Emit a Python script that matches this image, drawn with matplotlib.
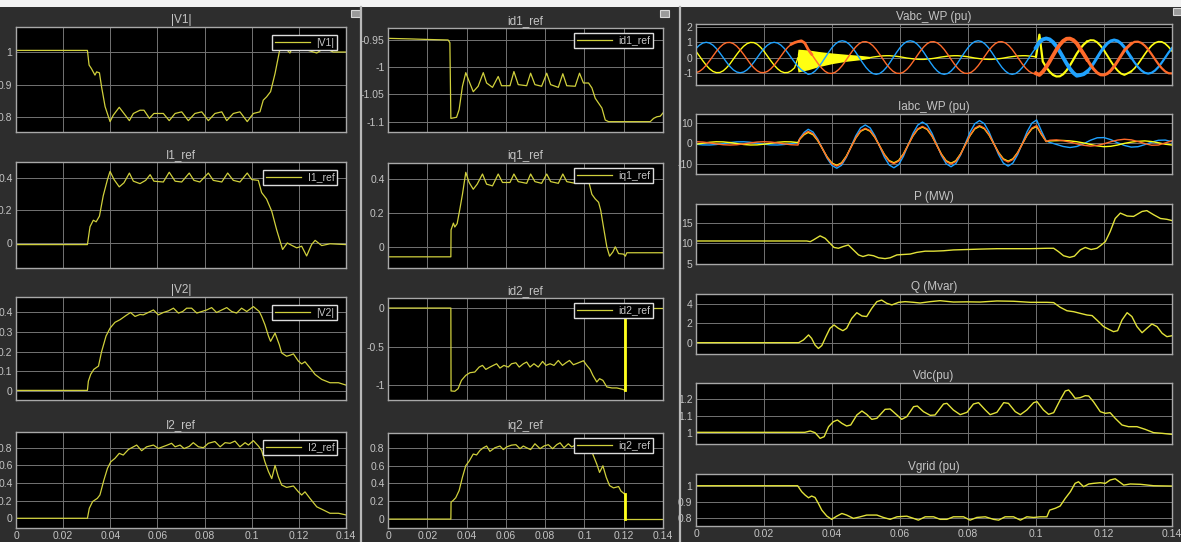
import numpy as np
import matplotlib
matplotlib.use("Agg")
import matplotlib.pyplot as plt
from matplotlib.lines import Line2D
from matplotlib.patches import Rectangle
from matplotlib.ticker import FuncFormatter

plt.rcParams['font.family'] = ['Liberation Sans', 'DejaVu Sans']

# ---------------- left column signals ----------------
v1_t = [0, 0.0303, 0.0310, 0.0320, 0.0335, 0.0342, 0.0354, 0.0363, 0.0378, 0.0399,
        0.0413, 0.0438, 0.0458, 0.0481, 0.0498, 0.0526, 0.0543, 0.0566, 0.0585, 0.0625,
        0.0650, 0.0675, 0.0703, 0.0731, 0.0759, 0.0788, 0.0816, 0.0844, 0.0873, 0.0894,
        0.0922, 0.0950, 0.0981, 0.1007, 0.1035, 0.1049, 0.1063, 0.1080, 0.1099, 0.1117,
        0.1127, 0.1145, 0.1162, 0.1177, 0.1200, 0.1240, 0.1262, 0.1276, 0.1297, 0.1325,
        0.1346, 0.1400]
v1_mag = [1.005, 1.005, 0.96, 0.949, 0.929, 0.939, 0.936, 0.893, 0.832, 0.786,
          0.806, 0.830, 0.811, 0.789, 0.811, 0.821, 0.821, 0.796, 0.811, 0.811,
          0.789, 0.811, 0.816, 0.789, 0.811, 0.816, 0.789, 0.811, 0.816, 0.789,
          0.811, 0.816, 0.786, 0.811, 0.816, 0.852, 0.862, 0.878, 0.934, 1.0,
          1.025, 1.01, 0.997, 1.02, 1.015, 1.005, 1.0, 0.997, 1.007, 1.007,
          1.0, 1.0]

i1_t = [0, 0.0303, 0.0314, 0.0328, 0.0340, 0.0354, 0.0370, 0.0388, 0.0399, 0.0416,
        0.0438, 0.0458, 0.0481, 0.0498, 0.0526, 0.0550, 0.0569, 0.0585, 0.0625, 0.0650,
        0.0675, 0.0703, 0.0735, 0.0755, 0.0780, 0.0816, 0.0837, 0.0873, 0.0898, 0.0922,
        0.0950, 0.0981, 0.1000, 0.1028, 0.1042, 0.1063, 0.1085, 0.1106, 0.1131, 0.1151,
        0.1170, 0.1191, 0.1212, 0.1233, 0.1254, 0.1269, 0.1297, 0.1332, 0.1400]
i1_ref = [-0.01, -0.01, 0.10, 0.14, 0.13, 0.165, 0.29, 0.39, 0.44, 0.39,
          0.345, 0.37, 0.43, 0.38, 0.365, 0.385, 0.42, 0.38, 0.375, 0.435,
          0.38, 0.375, 0.43, 0.385, 0.375, 0.43, 0.385, 0.375, 0.43, 0.385,
          0.375, 0.43, 0.39, 0.385, 0.31, 0.27, 0.195, 0.08, -0.04, 0.0,
          -0.015, -0.03, -0.02, -0.08, -0.01, 0.016, -0.016, -0.005, -0.01]

v2_t = [0, 0.0303, 0.0307, 0.0317, 0.0330, 0.0350, 0.0363, 0.0382, 0.0399, 0.0420,
        0.0441, 0.0467, 0.0486, 0.0505, 0.0526, 0.0540, 0.0561, 0.0583, 0.0604, 0.0625,
        0.0646, 0.0668, 0.0689, 0.0707, 0.0724, 0.0745, 0.0767, 0.0788, 0.0809, 0.0830,
        0.0851, 0.0873, 0.0894, 0.0915, 0.0936, 0.0957, 0.0979, 0.1007, 0.1032, 0.1042,
        0.1056, 0.1071, 0.1080, 0.1099, 0.1117, 0.1127, 0.1148, 0.1162, 0.1177, 0.1198,
        0.1212, 0.1226, 0.1247, 0.1269, 0.1297, 0.1332, 0.1368, 0.1400]
v2_mag = [0.003, 0.003, 0.05, 0.085, 0.11, 0.127, 0.20, 0.28, 0.32, 0.35,
          0.363, 0.385, 0.40, 0.38, 0.39, 0.388, 0.40, 0.413, 0.388, 0.400,
          0.408, 0.422, 0.397, 0.405, 0.422, 0.422, 0.397, 0.405, 0.413, 0.425,
          0.400, 0.413, 0.425, 0.405, 0.397, 0.422, 0.405, 0.43, 0.405, 0.38,
          0.338, 0.28, 0.253, 0.295, 0.236, 0.194, 0.177, 0.182, 0.189, 0.152,
          0.138, 0.149, 0.118, 0.084, 0.059, 0.042, 0.042, 0.03]

i2_t = [0, 0.0303, 0.0311, 0.0325, 0.0345, 0.0356, 0.0373, 0.0388, 0.0402, 0.0420,
        0.0438, 0.0455, 0.0477, 0.0498, 0.0512, 0.0533, 0.0554, 0.0583, 0.0604, 0.0622,
        0.0642, 0.0660, 0.0675, 0.0696, 0.0713, 0.0735, 0.0752, 0.0774, 0.0795, 0.0816,
        0.0844, 0.0866, 0.0887, 0.0908, 0.0929, 0.0950, 0.0972, 0.0986, 0.1007, 0.1028,
        0.1042, 0.1056, 0.1071, 0.1085, 0.1099, 0.1113, 0.1127, 0.1148, 0.1177, 0.1198,
        0.1212, 0.1226, 0.1247, 0.1276, 0.1304, 0.1332, 0.1368, 0.1400]
i2_ref = [0.0, 0.0, 0.113, 0.19, 0.226, 0.264, 0.434, 0.566, 0.64, 0.68,
          0.736, 0.717, 0.78, 0.81, 0.83, 0.766, 0.81, 0.83, 0.792, 0.81,
          0.83, 0.85, 0.81, 0.83, 0.79, 0.815, 0.857, 0.81, 0.80, 0.85,
          0.87, 0.81, 0.857, 0.85, 0.875, 0.81, 0.857, 0.83, 0.88, 0.82,
          0.77, 0.64, 0.53, 0.45, 0.60, 0.47, 0.377, 0.35, 0.366, 0.30,
          0.264, 0.30, 0.226, 0.13, 0.094, 0.057, 0.057, 0.038]

# ---------------- middle column signals ----------------
id1_t = [0, 0.0110, 0.0196, 0.0306, 0.0315, 0.0320, 0.0349, 0.0362, 0.0379, 0.0396,
         0.0413, 0.0434, 0.0459, 0.0485, 0.0502, 0.0532, 0.0561, 0.0578, 0.0621, 0.0641,
         0.0663, 0.0706, 0.0726, 0.0748, 0.0782, 0.0808, 0.0828, 0.0867, 0.0890, 0.0910,
         0.0953, 0.0975, 0.0995, 0.1021, 0.1038, 0.1055, 0.1072, 0.1089, 0.1106, 0.1123,
         0.1216, 0.1335, 0.1352, 0.1369, 0.1386, 0.1400]
id1_ref = [-0.947, -0.948, -0.949, -0.950, -0.955, -1.094, -1.092, -1.078, -1.035, -1.01,
           -1.026, -1.045, -1.035, -1.01, -1.029, -1.037, -1.017, -1.034, -1.034, -1.008,
           -1.032, -1.034, -1.011, -1.032, -1.035, -1.011, -1.032, -1.037, -1.012, -1.034,
           -1.035, -1.011, -1.029, -1.029, -1.038, -1.057, -1.066, -1.075, -1.097, -1.10,
           -1.10, -1.10, -1.094, -1.091, -1.09, -1.084]

iq1_t = [0, 0.0320, 0.0321, 0.0333, 0.0340, 0.0352, 0.0366, 0.0379, 0.0396, 0.0413,
         0.0434, 0.0454, 0.0481, 0.0502, 0.0532, 0.0561, 0.0583, 0.0621, 0.0641, 0.0663,
         0.0706, 0.0726, 0.0748, 0.0782, 0.0808, 0.0828, 0.0867, 0.0890, 0.0910, 0.0953,
         0.0975, 0.0995, 0.1021, 0.1038, 0.1055, 0.1072, 0.1083, 0.1097, 0.1114, 0.1128,
         0.1145, 0.1157, 0.1174, 0.1199, 0.1208, 0.1216, 0.1400]
iq1_ref = [-0.059, -0.059, 0.10, 0.14, 0.117, 0.137, 0.224, 0.31, 0.44, 0.38,
           0.34, 0.37, 0.43, 0.37, 0.36, 0.43, 0.38, 0.38, 0.43, 0.385,
           0.375, 0.43, 0.385, 0.375, 0.43, 0.385, 0.375, 0.43, 0.385, 0.375,
           0.43, 0.39, 0.39, 0.31, 0.283, 0.263, 0.215, 0.117, 0.0, -0.055,
           -0.03, 0.0, -0.04, -0.043, -0.055, -0.035, -0.035]

id2_t = [0, 0.0320, 0.0321, 0.0340, 0.0357, 0.0374, 0.0396, 0.0417, 0.0442, 0.0464,
         0.0481, 0.0498, 0.0519, 0.0536, 0.0553, 0.0570, 0.0590, 0.0612, 0.0629, 0.0651,
         0.0668, 0.0689, 0.0706, 0.0723, 0.0743, 0.0765, 0.0787, 0.0804, 0.0825, 0.0845,
         0.0867, 0.0888, 0.0906, 0.0924, 0.0944, 0.0970, 0.0995, 0.1012, 0.1029, 0.1043,
         0.1063, 0.1077, 0.1094, 0.1114, 0.1140, 0.1165, 0.1191, 0.1208]
id2_ref = [0.0, 0.0, -1.073, -1.077, -1.043, -0.936, -0.871, -0.837, -0.828, -0.764,
           -0.742, -0.794, -0.764, -0.742, -0.721, -0.777, -0.742, -0.764, -0.721, -0.708,
           -0.764, -0.721, -0.699, -0.764, -0.721, -0.764, -0.691, -0.742, -0.721, -0.742,
           -0.678, -0.742, -0.708, -0.678, -0.734, -0.708, -0.682, -0.742, -0.794, -0.871,
           -0.957, -0.914, -0.936, -1.021, -1.034, -1.034, -1.05, -1.064]
id2_reset_t = [0.1208, 0.1208]
id2_reset = [-1.064, 0.0]
id2_tail_t = [0.1212, 0.1400]
id2_tail = [0.0, 0.0]

iq2_t = [0, 0.0320, 0.0321, 0.0332, 0.0345, 0.0362, 0.0379, 0.0396, 0.0413, 0.0434,
         0.0451, 0.0468, 0.0485, 0.0502, 0.0519, 0.0544, 0.0570, 0.0587, 0.0604, 0.0629,
         0.0651, 0.0672, 0.0689, 0.0706, 0.0726, 0.0748, 0.0774, 0.0794, 0.0816, 0.0838,
         0.0859, 0.0876, 0.0896, 0.0918, 0.0935, 0.0958, 0.0985, 0.1010, 0.1030, 0.1046,
         0.1063, 0.1077, 0.1094, 0.1111, 0.1128, 0.1148, 0.1174, 0.1186, 0.1203]
iq2_ref = [0.0, 0.0, 0.19, 0.21, 0.24, 0.32, 0.47, 0.60, 0.65, 0.73,
           0.72, 0.77, 0.80, 0.82, 0.76, 0.80, 0.82, 0.78, 0.81, 0.83,
           0.835, 0.79, 0.82, 0.80, 0.78, 0.845, 0.79, 0.82, 0.835, 0.79,
           0.835, 0.856, 0.80, 0.845, 0.81, 0.835, 0.80, 0.85, 0.80, 0.71,
           0.616, 0.524, 0.598, 0.469, 0.376, 0.35, 0.365, 0.314, 0.284]
iq2_reset_t = [0.1205, 0.1205]
iq2_reset = [0.284, 0.0]
iq2_tail_t = [0.1208, 0.1400]
iq2_tail = [0.0, 0.0]

# ---------------- right column: wind-park three-phase quantities ----------------
vabc_t = np.linspace(0.0, 0.14, 141)   # 1 ms sampling
vabc_a = [0.41, 0.1, -0.21, -0.5, -0.74, -0.91, -0.99, -0.98, -0.87, -0.67,
          -0.41, -0.1, 0.21, 0.5, 0.74, 0.91, 0.99, 0.98, 0.87, 0.67,
          0.41, 0.1, -0.21, -0.5, -0.74, -0.91, -0.99, -0.98, -0.87, -0.67,
          0.0, -0.1, -0.1, 0.06, 0.09, 0.11, 0.12, 0.12, 0.1, 0.08,
          0.05, 0.01, -0.03, -0.06, -0.09, -0.11, -0.12, -0.12, -0.1, -0.08,
          -0.05, -0.01, 0.03, 0.06, 0.09, 0.11, 0.12, 0.12, 0.1, 0.08,
          0.05, 0.01, -0.03, -0.06, -0.09, -0.11, -0.12, -0.12, -0.1, -0.08,
          -0.05, -0.01, 0.03, 0.06, 0.09, 0.11, 0.12, 0.12, 0.1, 0.08,
          0.05, 0.01, -0.03, -0.06, -0.09, -0.11, -0.12, -0.12, -0.1, -0.08,
          -0.05, -0.01, 0.03, 0.06, 0.09, 0.11, 0.12, 0.12, 0.1, 0.08,
          0.05, 1.5, -0.26, -0.63, -0.93, -1.14, -1.24, -1.23, -1.09, -0.84,
          -0.51, -0.13, 0.26, 0.58, 0.85, 1.05, 1.14, 1.13, 1.0, 0.77,
          0.47, 0.12, -0.24, -0.58, -0.85, -1.05, -1.14, -1.03, -0.91, -0.7,
          -0.43, -0.11, 0.22, 0.53, 0.78, 0.96, 1.04, 1.03, 0.91, 0.7,
          0.43]
vabc_b = [0.59, 0.81, 0.95, 1.0, 0.95, 0.81, 0.59, 0.31, 0.0, -0.31,
          -0.59, -0.81, -0.95, -1.0, -0.95, -0.81, -0.59, -0.31, 0.0, 0.31,
          0.59, 0.81, 0.95, 1.0, 0.95, 0.81, 0.59, 0.31, 0.0, -0.31,
          -0.59, -0.81, -0.95, -1.1, -1.05, -0.89, -0.65, -0.34, 0.0, 0.34,
          0.65, 0.89, 1.05, 1.1, 1.05, 0.89, 0.65, 0.34, 0.0, -0.34,
          -0.65, -0.89, -1.05, -1.1, -1.05, -0.89, -0.65, -0.34, 0.0, 0.34,
          0.65, 0.89, 1.05, 1.1, 1.05, 0.89, 0.65, 0.34, 0.0, -0.34,
          -0.65, -0.89, -1.05, -1.1, -1.05, -0.89, -0.65, -0.34, 0.0, 0.34,
          0.65, 0.89, 1.05, 1.1, 1.05, 0.89, 0.65, 0.34, 0.0, -0.34,
          -0.65, -0.89, -1.05, -1.1, -1.05, -0.89, -0.65, -0.34, 0.0, 0.34,
          0.65, 1.01, 1.19, 1.25, 1.19, 1.01, 0.74, 0.39, 0.0, -0.39,
          -0.74, -1.01, -1.19, -1.15, -1.09, -0.93, -0.68, -0.36, 0.0, 0.36,
          0.68, 0.93, 1.09, 1.15, 1.09, 0.93, 0.68, 0.33, 0.0, -0.33,
          -0.62, -0.85, -1.0, -1.05, -1.0, -0.85, -0.62, -0.33, 0.0, 0.33,
          0.62]
vabc_c = [-0.99, -0.91, -0.74, -0.5, -0.21, 0.1, 0.41, 0.67, 0.87, 0.98,
          0.99, 0.91, 0.74, 0.5, 0.21, -0.1, -0.41, -0.67, -0.87, -0.98,
          -0.99, -0.91, -0.74, -0.5, -0.21, 0.1, 0.41, 0.67, 0.87, 0.98,
          1.05, 1.1, 0.95, 0.53, 0.22, -0.11, -0.43, -0.7, -0.91, -1.03,
          -1.04, -0.96, -0.78, -0.53, -0.22, 0.11, 0.43, 0.7, 0.91, 1.03,
          1.04, 0.96, 0.78, 0.53, 0.22, -0.11, -0.43, -0.7, -0.91, -1.03,
          -1.04, -0.96, -0.78, -0.53, -0.22, 0.11, 0.43, 0.7, 0.91, 1.03,
          1.04, 0.96, 0.78, 0.53, 0.22, -0.11, -0.43, -0.7, -0.91, -1.03,
          -1.04, -0.96, -0.78, -0.53, -0.22, 0.11, 0.43, 0.7, 0.91, 1.03,
          1.04, 0.96, 0.78, 0.53, 0.22, -0.11, -0.43, -0.7, -0.91, -1.03,
          -1.04, -1.14, -0.93, -0.63, -0.26, 0.13, 0.51, 0.84, 1.09, 1.23,
          1.24, 1.14, 0.93, 0.58, 0.24, -0.12, -0.47, -0.77, -1.0, -1.13,
          -1.14, -1.05, -0.85, -0.58, -0.24, 0.12, 0.47, 0.7, 0.91, 1.03,
          1.04, 0.96, 0.78, 0.53, 0.22, -0.11, -0.43, -0.7, -0.91, -1.03,
          -1.04]
# envelope of the switching burst on the faulted phase
burst_t = [0.0298, 0.0300, 0.033, 0.036, 0.040, 0.044, 0.048, 0.051]
burst_hi = [0.2, 0.55, 0.5, 0.4, 0.3, 0.22, 0.15, 0.08]
burst_lo = [-0.7, -0.95, -0.8, -0.6, -0.4, -0.25, -0.15, -0.05]

iabc_t = [0.000, 0.002, 0.004, 0.006, 0.008, 0.010, 0.012, 0.014, 0.016, 0.018,
          0.020, 0.022, 0.024, 0.026, 0.028, 0.030, 0.0305, 0.0318,
          0.0330, 0.0344, 0.0358, 0.0372, 0.0386, 0.0400, 0.0414, 0.0428, 0.0442, 0.0456,
          0.0470, 0.0484, 0.0498, 0.0512, 0.0526, 0.0540, 0.0554, 0.0568, 0.0582, 0.0596,
          0.0610, 0.0624, 0.0638, 0.0652, 0.0666, 0.0680, 0.0694, 0.0708, 0.0722, 0.0736,
          0.0750, 0.0764, 0.0778, 0.0792, 0.0806, 0.0820, 0.0834, 0.0848, 0.0862, 0.0876,
          0.0890, 0.0904, 0.0918, 0.0932, 0.0946, 0.0960, 0.0974, 0.0988, 0.1002,
          0.1016, 0.1030,
          0.104, 0.106, 0.108, 0.110, 0.112, 0.114, 0.116, 0.118, 0.120, 0.122,
          0.124, 0.126, 0.128, 0.130, 0.132, 0.134, 0.136, 0.138, 0.140]
iabc_a = [-0.4, 0.08, 0.54, 0.78, 0.73, 0.4, -0.08, -0.54, -0.78, -0.73,
          -0.4, 0.08, 0.54, 0.78, 0.73, 0.4, 2.0, 4.2,
          5.3, 4.23, 1.33, -2.65, -6.63, -9.53, -10.6, -9.42, -6.2, -1.8,
          2.6, 5.82, 7.0, 5.9, 2.9, -1.2, -5.3, -8.3, -9.4, -8.24,
          -5.08, -0.75, 3.58, 6.74, 7.9, 6.73, 3.53, -0.85, -5.23, -8.43,
          -9.6, -8.41, -5.15, -0.7, 3.75, 7.01, 8.2, 7.07, 4.0, -0.2,
          -4.4, -7.47, -8.6, -7.47, -4.4, -0.2, 4.0, 7.07, 8.2,
          4.3, 0.9,
          1.2, 1.3, 1.4, 1.2, 0.8, 0.2, -0.5, -1.2, -1.6, -1.4,
          -0.8, 0.0, 0.6, 1.0, 1.2, 0.9, 0.3, -0.4, -0.8]
iabc_b = [-0.4, -0.73, -0.78, -0.54, -0.08, 0.4, 0.73, 0.78, 0.54, 0.08,
          -0.4, -0.73, -0.78, -0.54, -0.08, 0.4, 2.3, 5.3,
          6.8, 5.54, 2.1, -2.6, -7.3, -10.74, -12.0, -10.6, -6.78, -1.55,
          3.68, 7.5, 8.9, 7.51, 3.73, -1.45, -6.63, -10.41, -11.8, -10.32,
          -6.28, -0.75, 4.78, 8.82, 10.3, 8.85, 4.9, -0.5, -5.9, -9.85,
          -11.3, -9.81, -5.73, -0.15, 5.43, 9.51, 11.0, 9.53, 5.5, 0.0,
          -5.5, -9.53, -11.0, -9.51, -5.43, 0.15, 5.73, 9.81, 11.3,
          6.0, 1.2,
          0.5, -0.5, -1.5, -2.0, -1.5, -0.2, 1.5, 2.7, 2.8, 1.8,
          0.3, -1.0, -1.8, -1.6, -0.6, 0.6, 1.5, 1.6, 0.8]
iabc_c = [0.8, 0.65, 0.25, -0.25, -0.65, -0.8, -0.65, -0.25, 0.25, 0.65,
          0.8, 0.65, 0.25, -0.25, -0.65, -0.8, 2.2, 4.6,
          5.8, 4.67, 1.6, -2.6, -6.8, -9.87, -11.0, -9.77, -6.43, -1.85,
          2.73, 6.07, 7.3, 6.15, 3.03, -1.25, -5.53, -8.65, -9.8, -8.59,
          -5.3, -0.8, 3.7, 6.99, 8.2, 6.98, 3.65, -0.9, -5.45, -8.78,
          -10.0, -8.75, -5.35, -0.7, 3.95, 7.35, 8.6, 7.42, 4.2, -0.2,
          -4.6, -7.82, -9.0, -7.82, -4.6, -0.2, 4.2, 7.42, 8.6,
          4.5, 0.9,
          1.5, 1.7, 1.3, 0.6, -0.2, -0.9, -1.3, -1.0, -0.2, 0.8,
          1.6, 2.0, 1.7, 0.9, -0.1, -0.9, -0.8, 0.2, 1.3]

p_t = [0, 0.0326, 0.0336, 0.0345, 0.0365, 0.0380, 0.0394, 0.0406, 0.0419, 0.0432,
       0.0448, 0.0463, 0.0478, 0.0491, 0.0507, 0.0522, 0.0537, 0.0556, 0.0571, 0.0591,
       0.0610, 0.0630, 0.0649, 0.0674, 0.0699, 0.0728, 0.0757, 0.0797, 0.0836, 0.0885,
       0.0934, 0.0983, 0.1032, 0.1052, 0.1066, 0.1081, 0.1099, 0.1113, 0.1130, 0.1145,
       0.1162, 0.1179, 0.1189, 0.1204, 0.1218, 0.1233, 0.1248, 0.1268, 0.1287, 0.1312,
       0.1326, 0.1346, 0.1366, 0.1385, 0.1400]
p_mw = [10.56, 10.56, 10.4, 10.8, 11.8, 11.2, 10.0, 9.0, 8.8, 9.2,
        9.6, 8.4, 7.2, 6.8, 7.2, 7.0, 6.5, 6.3, 6.5, 7.2,
        7.3, 7.4, 7.8, 8.1, 8.1, 8.2, 8.4, 8.5, 8.6, 8.7,
        8.7, 8.7, 8.8, 8.8, 8.0, 7.0, 6.6, 6.9, 8.4, 9.0,
        8.5, 8.8, 9.4, 10.4, 12.8, 16.0, 17.3, 16.6, 16.5, 17.7,
        17.9, 16.9, 16.0, 15.8, 15.5]

q_t = [0, 0.0302, 0.0316, 0.0331, 0.0340, 0.0350, 0.0360, 0.0370, 0.0382, 0.0394,
       0.0406, 0.0419, 0.0432, 0.0443, 0.0458, 0.0473, 0.0488, 0.0502, 0.0517, 0.0532,
       0.0546, 0.0561, 0.0576, 0.0596, 0.0615, 0.0640, 0.0659, 0.0689, 0.0718, 0.0757,
       0.0797, 0.0836, 0.0885, 0.0934, 0.0983, 0.1032, 0.1052, 0.1071, 0.1091, 0.1111,
       0.1130, 0.1150, 0.1165, 0.1179, 0.1199, 0.1214, 0.1228, 0.1240, 0.1253, 0.1268,
       0.1282, 0.1297, 0.1312, 0.1326, 0.1341, 0.1356, 0.1371, 0.1385, 0.1400]
q_mvar = [0.0, 0.0, 0.28, 0.8, 0.45, -0.24, -0.6, -0.3, 0.62, 1.48,
          1.83, 1.48, 1.24, 1.48, 2.5, 3.1, 2.76, 2.7, 3.55, 4.24,
          4.4, 4.07, 3.9, 4.17, 4.24, 4.17, 4.1, 4.24, 4.34, 4.2,
          4.22, 4.2, 4.31, 4.28, 4.17, 4.17, 4.14, 3.66, 3.3, 3.2,
          3.03, 2.86, 2.8, 2.34, 1.66, 1.38, 1.14, 1.24, 2.34, 3.1,
          2.7, 1.66, 1.03, 1.48, 1.93, 1.66, 0.97, 0.62, 0.72]

vdc_t = [0, 0.0320, 0.0336, 0.0350, 0.0365, 0.0377, 0.0390, 0.0404, 0.0416, 0.0429,
         0.0443, 0.0455, 0.0473, 0.0488, 0.0502, 0.0517, 0.0532, 0.0556, 0.0571, 0.0591,
         0.0605, 0.0620, 0.0640, 0.0651, 0.0669, 0.0689, 0.0703, 0.0728, 0.0738, 0.0757,
         0.0777, 0.0797, 0.0816, 0.0831, 0.0851, 0.0865, 0.0885, 0.0905, 0.0919, 0.0939,
         0.0954, 0.0973, 0.0993, 0.1003, 0.1022, 0.1037, 0.1052, 0.1071, 0.1086, 0.1096,
         0.1106, 0.1115, 0.1130, 0.1145, 0.1155, 0.1169, 0.1189, 0.1204, 0.1218, 0.1233,
         0.1253, 0.1272, 0.1297, 0.1321, 0.1346, 0.1371, 0.1400]
vdc_pu = [1.002, 1.002, 1.01, 1.0, 0.966, 0.976, 1.036, 1.066, 1.076, 1.056,
          1.04, 1.046, 1.106, 1.13, 1.11, 1.08, 1.086, 1.14, 1.142, 1.106,
          1.08, 1.096, 1.156, 1.16, 1.126, 1.104, 1.106, 1.172, 1.176, 1.136,
          1.108, 1.122, 1.172, 1.18, 1.136, 1.108, 1.122, 1.18, 1.176, 1.126,
          1.108, 1.136, 1.18, 1.186, 1.136, 1.11, 1.12, 1.196, 1.25, 1.256,
          1.232, 1.206, 1.21, 1.222, 1.22, 1.186, 1.126, 1.116, 1.12, 1.086,
          1.046, 1.036, 1.036, 1.02, 1.0, 0.996, 0.99]

vgrid_t = [0, 0.0299, 0.0311, 0.0321, 0.0331, 0.0340, 0.0350, 0.0360, 0.0370, 0.0385,
           0.0399, 0.0414, 0.0429, 0.0443, 0.0463, 0.0483, 0.0502, 0.0532, 0.0551, 0.0571,
           0.0591, 0.0620, 0.0640, 0.0654, 0.0674, 0.0699, 0.0718, 0.0738, 0.0757, 0.0787,
           0.0806, 0.0826, 0.0851, 0.0875, 0.0890, 0.0909, 0.0934, 0.0954, 0.0973, 0.0993,
           0.1012, 0.1032, 0.1040, 0.1057, 0.1071, 0.1086, 0.1101, 0.1115, 0.1125, 0.1140,
           0.1155, 0.1169, 0.1189, 0.1204, 0.1218, 0.1233, 0.1243, 0.1258, 0.1277, 0.1307,
           0.1346, 0.1400]
vgrid_pu = [1.002, 1.002, 0.964, 0.943, 0.926, 0.937, 0.928, 0.89, 0.848, 0.81,
            0.79, 0.81, 0.827, 0.817, 0.796, 0.806, 0.817, 0.817, 0.802, 0.79,
            0.806, 0.81, 0.796, 0.785, 0.806, 0.806, 0.79, 0.79, 0.806, 0.806,
            0.785, 0.802, 0.806, 0.79, 0.785, 0.806, 0.806, 0.785, 0.806, 0.802,
            0.806, 0.806, 0.848, 0.86, 0.874, 0.922, 0.964, 1.017, 1.027, 0.996,
            1.013, 1.017, 1.021, 1.017, 1.038, 1.046, 1.03, 1.006, 1.013, 1.011,
            1.002, 1.0]

time_ticks = [0, 0.02, 0.04, 0.06, 0.08, 0.1, 0.12, 0.14]

# ---------------- styling ----------------
BG = '#2d2d2d'
GRID = '#737373'
SPINE = '#a8a8a8'
TXT = '#c4c4c4'
LINE = '#d0d03c'
LINE_R = '#e2e23a'
BRIGHT = '#ffff1a'
PH_A, PH_B, PH_C = '#ffff11', '#1fa2ff', '#ff6a2a'

W, H = 1181, 542
fig = plt.figure(figsize=(W / 100, H / 100), dpi=100)
fig.patch.set_facecolor(BG)

fmt = FuncFormatter(lambda v, p: f"{v:g}")


def make_axes(x0, y0, x1, y1, title, ylim, yticks, xlabels):
    ax = fig.add_axes([x0 / W, 1 - y1 / H, (x1 - x0) / W, (y1 - y0) / H])
    ax.set_facecolor('black')
    ax.set_xlim(0, 0.14)
    ax.set_ylim(*ylim)
    ax.set_xticks(time_ticks)
    ax.set_yticks(yticks)
    ax.yaxis.set_major_formatter(fmt)
    ax.xaxis.set_major_formatter(fmt)
    if not xlabels:
        ax.set_xticklabels([])
    ax.grid(True, color=GRID, lw=0.7)
    ax.set_axisbelow(True)
    ax.tick_params(length=0, colors=TXT, labelsize=7.5, pad=2.5)
    for s in ax.spines.values():
        s.set_color(SPINE)
        s.set_linewidth(1.0)
    ax.set_title(title, color=TXT, fontsize=8.5, pad=3)
    return ax


def add_legend(ax, line, label, dx, dy):
    bb = ax.get_position()
    wpx, hpx = bb.width * W, bb.height * H
    leg = ax.legend([line], [label], loc='upper right',
                    bbox_to_anchor=(1 - dx / wpx, 1 - dy / hpx), borderaxespad=0,
                    fontsize=7.5, handlelength=3.4, handletextpad=0.6, borderpad=0.25,
                    facecolor='black', edgecolor='#dcdcdc', framealpha=1,
                    fancybox=False, labelcolor=TXT)
    leg.get_frame().set_linewidth(1.0)


LX0, LX1 = 16, 346
MX0, MX1 = 388, 663
ROWS = [(27, 132), (162, 268), (297, 400), (432, 528)]

left_specs = [
    ('|V1|', v1_t, v1_mag, (0.754, 1.077), [0.8, 0.9, 1]),
    ('I1_ref', i1_t, i1_ref, (-0.154, 0.498), [0, 0.2, 0.4]),
    ('|V2|', v2_t, v2_mag, (-0.046, 0.479), [0, 0.1, 0.2, 0.3, 0.4]),
    ('I2_ref', i2_t, i2_ref, (-0.11, 0.978), [0, 0.2, 0.4, 0.6, 0.8]),
]
for k, (name, tt, vv, yl, yt) in enumerate(left_specs):
    y0, y1 = ROWS[k]
    ax = make_axes(LX0, y0, LX1, y1, name, yl, yt, k == 3)
    ln, = ax.plot(tt, vv, color=LINE, lw=0.9)
    add_legend(ax, ln, name, 9, 8)

mid_specs = [
    ('id1_ref', (-1.119, -0.928), [-1.1, -1.05, -1, -0.95]),
    ('iq1_ref', (-0.125, 0.495), [0, 0.2, 0.4]),
    ('id2_ref', (-1.19, 0.13), [-1, -0.5, 0]),
    ('iq2_ref', (-0.1, 0.966), [0, 0.2, 0.4, 0.6, 0.8]),
]
mid_axes = []
for k, (name, yl, yt) in enumerate(mid_specs):
    y0, y1 = ROWS[k]
    mid_axes.append(make_axes(MX0, y0 + 1, MX1, y1, name, yl, yt, k == 3))

ax = mid_axes[0]
ln, = ax.plot(id1_t, id1_ref, color=LINE, lw=0.9)
add_legend(ax, ln, 'id1_ref', 10, 5)

ax = mid_axes[1]
ln, = ax.plot(iq1_t, iq1_ref, color=LINE, lw=0.9)
add_legend(ax, ln, 'iq1_ref', 10, 5)

ax = mid_axes[2]
ln, = ax.plot(id2_t, id2_ref, color=LINE, lw=0.9)
ax.plot(id2_tail_t, id2_tail, color=LINE, lw=0.9)
ax.plot(id2_reset_t, id2_reset, color=BRIGHT, lw=2.0)
add_legend(ax, ln, 'id2_ref', 10, 5)

ax = mid_axes[3]
ln, = ax.plot(iq2_t, iq2_ref, color=LINE, lw=0.9)
ax.plot(iq2_tail_t, iq2_tail, color=LINE, lw=0.9)
ax.plot(iq2_reset_t, iq2_reset, color=BRIGHT, lw=2.0)
add_legend(ax, ln, 'iq2_ref', 10, 5)

RX0, RX1 = 696, 1172
# Vabc: thin traces in steady state, heavier traces where the signal is noisy
ax = make_axes(RX0, 24, RX1, 85, 'Vabc_WP (pu)', (-1.8, 2.2), [-1, 0, 1, 2], False)
ax.plot(vabc_t[:101], vabc_a[:101], color=PH_A, lw=1.0)
ax.fill_between(burst_t, burst_lo, burst_hi, color=PH_A, lw=0)
ax.plot(vabc_t[:101], vabc_b[:101], color=PH_B, lw=1.0)
ax.plot(vabc_t[:101], vabc_c[:101], color=PH_C, lw=1.0)
ax.plot(vabc_t[28:35], vabc_c[28:35], color=PH_C, lw=2.0)
noisy = ((vabc_a, PH_A, (1.6, 1.4, 1.2)),
         (vabc_b, PH_B, (2.8, 2.2, 1.6)),
         (vabc_c, PH_C, (2.8, 2.2, 1.6)))
for series, col, widths in noisy:
    ax.plot(vabc_t[100:116], series[100:116], color=col, lw=widths[0], solid_joinstyle='round')
    ax.plot(vabc_t[115:129], series[115:129], color=col, lw=widths[1], solid_joinstyle='round')
    ax.plot(vabc_t[128:], series[128:], color=col, lw=widths[2], solid_joinstyle='round')

# Iabc
ax = make_axes(RX0, 114, RX1, 174, 'Iabc_WP (pu)', (-14.8, 14.2), [-10, 0, 10], False)
ax.plot(iabc_t, iabc_b, color=PH_B, lw=1.0)
ax.plot(iabc_t, iabc_a, color=PH_A, lw=1.0)
ax.plot(iabc_t, iabc_c, color=PH_C, lw=1.0)

ax = make_axes(RX0, 204, RX1, 264, 'P (MW)', (5, 19.5), [5, 10, 15], False)
ax.plot(p_t, p_mw, color=LINE_R, lw=1.0)

ax = make_axes(RX0, 294, RX1, 354, 'Q (Mvar)', (-1.17, 5.03), [0, 2, 4], False)
ax.plot(q_t, q_mvar, color=LINE_R, lw=1.0)

ax = make_axes(RX0, 383, RX1, 444, 'Vdc(pu)', (0.932, 1.298), [1, 1.1, 1.2], False)
ax.plot(vdc_t, vdc_pu, color=LINE_R, lw=1.0)

ax = make_axes(RX0, 474, RX1, 526, 'Vgrid (pu)', (0.748, 1.076), [0.8, 0.9, 1], True)
ax.plot(vgrid_t, vgrid_pu, color=LINE_R, lw=1.0)

# window chrome: top strip, panel dividers and the small undock buttons
fig.add_artist(Rectangle((0, 1 - 7 / H), 1, 7 / H, transform=fig.transFigure,
                         facecolor='#f2f2f2', edgecolor='none'))
for xs in (361, 680):
    fig.add_artist(Line2D([xs / W, xs / W], [0, 1 - 7 / H], transform=fig.transFigure,
                          color='#b8b8b8', lw=1.6))
for bx, by in ((351, 10), (660, 10), (1173, 8)):
    fig.add_artist(Rectangle((bx / W, 1 - (by + 7) / H), 9 / W, 7 / H,
                             transform=fig.transFigure, facecolor='#9a9a9a',
                             edgecolor='#d8d8d8', lw=0.8))

fig.savefig('out.png', dpi=100, facecolor=BG)
